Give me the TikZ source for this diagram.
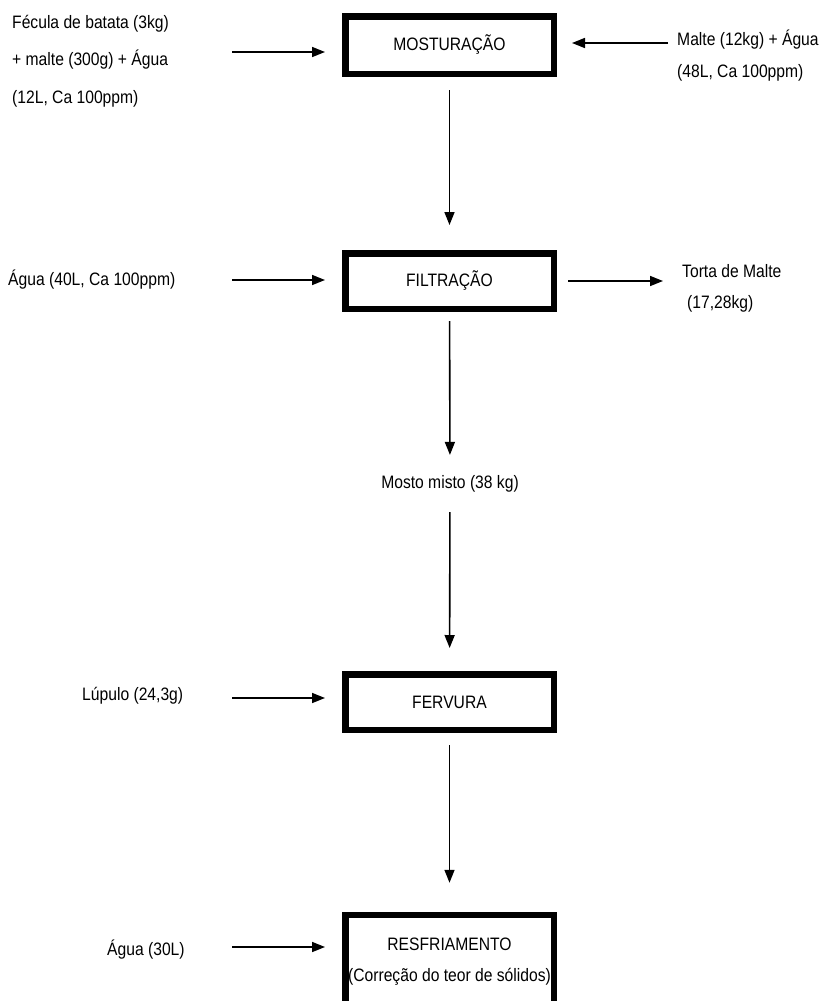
\documentclass[tikz,border=0pt]{standalone}
\usepackage{fontspec}
\setmainfont{Liberation Sans}[FakeStretch=0.87]
\usetikzlibrary{arrows.meta}

\begin{document}
\begin{tikzpicture}[x=1pt,y=-1pt]
            \useasboundingbox (0,0) rectangle (823,1001);
            \fill[white] (0,0) rectangle (823,1001);
            \begin{scope}[every node/.style={font=\fontsize{18}{31}\selectfont, inner sep=0pt}]
                % process boxes
                \begin{scope}[every node/.append style={draw, line width=6.5pt, minimum width=208.5pt, align=center}]
                    \node[minimum height=57.5pt] (most) at (449.5,45) {MOSTURAÇÃO};
                    \node[minimum height=55.5pt] (filt) at (449.5,281) {FILTRAÇÃO};
                    \node[minimum height=55.5pt] (ferv) at (449.5,702) {FERVURA};
                    \node[minimum height=94pt] (resf) at (449.5,962) {RESFRIAMENTO\\(Correção do teor de sólidos)};
                \end{scope}

                % inputs and outputs
                \node[anchor=west, align=left, font=\fontsize{18}{37.5}\selectfont] (fec) at (12,61) {Fécula de batata (3kg)\\+ malte (300g) + Água\\(12L, Ca 100ppm)};
                \node[anchor=west, align=left, font=\fontsize{18}{32}\selectfont] (malt) at (677,56) {Malte (12kg) + Água\\(48L, Ca 100ppm)};
                \node[anchor=west] (ag1) at (8,280) {Água (40L, Ca 100ppm)};
                \node[anchor=west, align=left] (tort) at (682,288) {Torta de Malte\\\hspace{5pt}(17,28kg)};
                \node (mist) at (450,484) {Mosto misto (38 kg)};
                \node[anchor=west] (lup) at (82,696) {Lúpulo (24,3g)};
                \node[anchor=west] (ag2) at (107,950) {Água (30L)};
            \end{scope}

            \coordinate (t1) at (232,52);
            \coordinate (t2) at (668,43);
            \coordinate (t3) at (232,280);
            \coordinate (t4) at (663,281);
            \coordinate (t5) at (232,698);
            \coordinate (t6) at (232,947);

            \begin{scope}[every edge/.style={draw, line width=1.6pt, -{Triangle[length=13pt,width=10pt]}}]
                \path (t1) edge[shorten >=17pt] (t1 -| most.west);
                \path (t2) edge[shorten >=15pt] (t2 -| most.east);
                \path (most) edge[shorten <=13pt, shorten >=25pt] (filt);

                \path (t3) edge[shorten >=17pt] (t3 -| filt.west);
                \path (filt) edge[shorten <=11pt] (t4);
                \path (filt) edge[shorten <=9pt, shorten >=20.5pt] (mist);
                \path (mist) edge[shorten <=19.5pt, shorten >=23pt] (ferv);

                \path (t5) edge[shorten >=17pt] (t5 -| ferv.west);
                \path (ferv) edge[shorten <=12pt, shorten >=29pt] (resf);

                \path (t6) edge[shorten >=17pt] (t6 -| resf.west);
            \end{scope}
        \end{tikzpicture}
\end{document}
